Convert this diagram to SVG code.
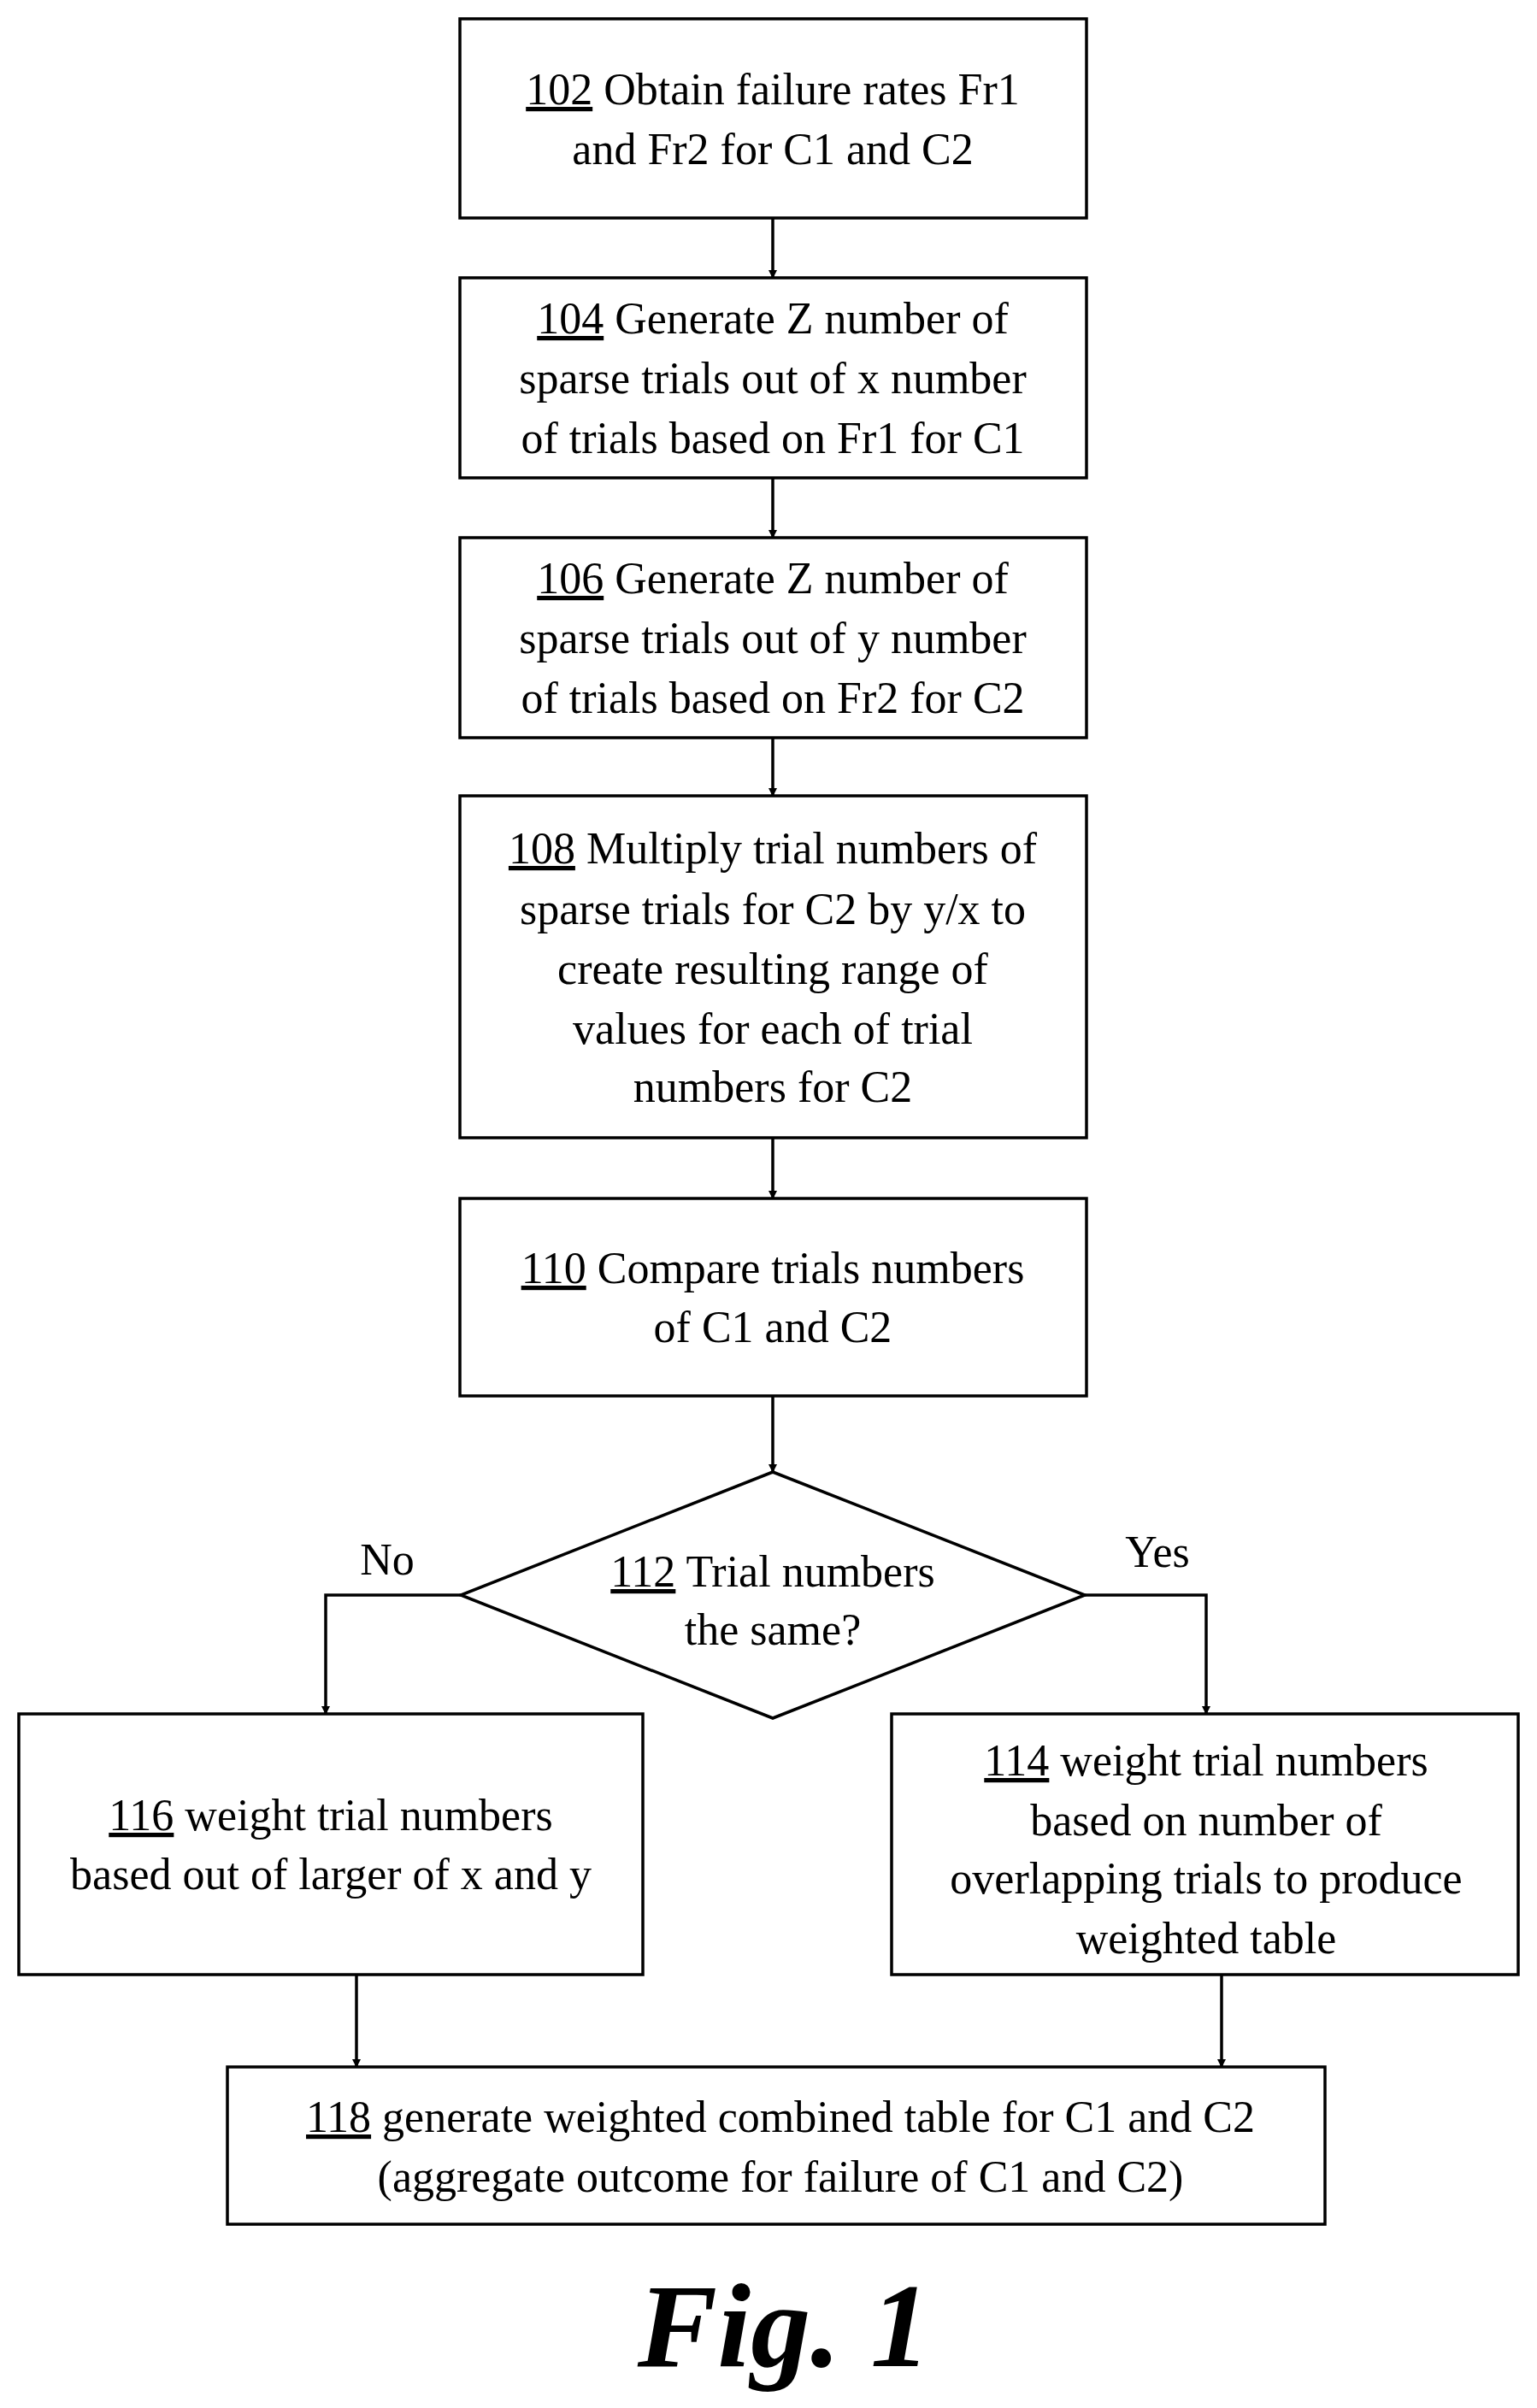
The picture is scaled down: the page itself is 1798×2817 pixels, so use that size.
<svg xmlns="http://www.w3.org/2000/svg" width="1798" height="2817" viewBox="0 0 1798 2817">
<style>
.b{fill:#fff;stroke:#000;stroke-width:3.5}
text{font-family:"Liberation Serif","Times New Roman",serif;font-size:52px;fill:#000;text-anchor:middle}
.u{text-decoration:underline}
.c{fill:none;stroke:#000;stroke-width:3.5}
</style>
<defs><marker id="a" markerWidth="10" markerHeight="10" refX="9" refY="5" orient="auto" markerUnits="userSpaceOnUse" viewBox="0 0 10 10"><path d="M0,0L10,5L0,10z"/></marker></defs>
<rect width="1798" height="2817" fill="#fff"/>
<g id="connectors">
<g class="c" marker-end="url(#a)">
<path d="M904 255V325" marker-end="url(#a)"/>
<path d="M904 559V629" marker-end="url(#a)"/>
<path d="M904 863V931" marker-end="url(#a)"/>
<path d="M904 1331V1402" marker-end="url(#a)"/>
<path d="M904 1633V1722" marker-end="url(#a)"/>
<path d="M539 1866H381V2005" marker-end="url(#a)"/>
<path d="M1269 1866H1411V2005" marker-end="url(#a)"/>
<path d="M417 2310V2418" marker-end="url(#a)"/>
<path d="M1429 2310V2418" marker-end="url(#a)"/>
</g>
<text x="453" y="1842">No</text>
<text x="1354" y="1833">Yes</text>
</g>
<g id="n102"><rect class="b" x="538" y="22" width="733" height="233"/>
<text x="904" y="122"><tspan class="u">102</tspan> Obtain failure rates Fr1</text><text x="904" y="192">and Fr2 for C1 and C2</text></g>
<g id="n104"><rect class="b" x="538" y="325" width="733" height="234"/>
<text x="904" y="390"><tspan class="u">104</tspan> Generate Z number of</text><text x="904" y="460">sparse trials out of  x number</text><text x="904" y="530">of trials based on Fr1 for C1</text></g>
<g id="n106"><rect class="b" x="538" y="629" width="733" height="234"/>
<text x="904" y="694"><tspan class="u">106</tspan> Generate Z number of</text><text x="904" y="764">sparse trials out of  y number</text><text x="904" y="834">of trials based on Fr2 for C2</text></g>
<g id="n108"><rect class="b" x="538" y="931" width="733" height="400"/>
<text x="904" y="1010"><tspan class="u">108</tspan> Multiply trial numbers of</text><text x="904" y="1081">sparse trials for C2 by y/x to</text><text x="904" y="1151">create resulting range of</text><text x="904" y="1221">values for each of trial</text><text x="904" y="1289">numbers for C2</text></g>
<g id="n110"><rect class="b" x="538" y="1402" width="733" height="231"/>
<text x="904" y="1501"><tspan class="u">110</tspan> Compare trials numbers</text><text x="904" y="1570">of C1 and C2</text></g>
<g id="n112"><path class="b" d="M904 1722L1269 1866L904 2010L539 1866Z"/>
<text x="904" y="1856"><tspan class="u">112</tspan> Trial numbers</text><text x="904" y="1924">the same?</text></g>
<g id="n116"><rect class="b" x="22" y="2005" width="730" height="305"/>
<text x="387" y="2141"><tspan class="u">116</tspan> weight trial numbers</text><text x="387" y="2210">based out of larger of x and y</text></g>
<g id="n114"><rect class="b" x="1043" y="2005" width="733" height="305"/>
<text x="1411" y="2077"><tspan class="u">114</tspan> weight trial numbers</text><text x="1411" y="2147">based on number of</text><text x="1411" y="2215">overlapping trials to produce</text><text x="1411" y="2285">weighted table</text></g>
<g id="n118"><rect class="b" x="266" y="2418" width="1284" height="184"/>
<text x="913" y="2494"><tspan class="u">118</tspan> generate weighted combined table for C1 and C2</text><text x="913" y="2564">(aggregate outcome for failure of C1 and C2)</text></g>
<text x="917" y="2768" style="font-size:140px;font-weight:bold;font-style:italic">Fig. 1</text>
</svg>
